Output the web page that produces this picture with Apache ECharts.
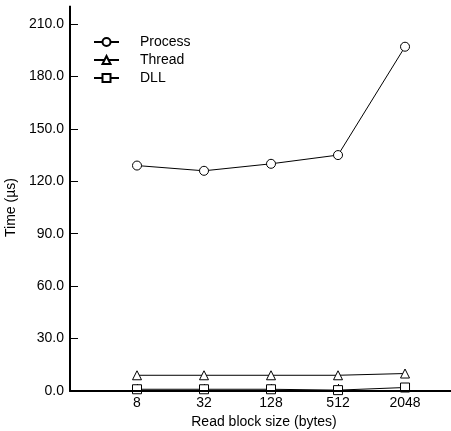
<!DOCTYPE html>
<html>
<head>
<meta charset="utf-8">
<script src="https://cdn.jsdelivr.net/npm/echarts@6/dist/echarts.min.js"></script>
<style>
  html, body { margin: 0; padding: 0; background: #fff; }
  #chart { width: 451px; height: 431px; }
</style>
</head>
<body>
<div id="chart"></div>
<script>
// Read block sizes (bytes) along the x axis
var blockSizes = ['8', '32', '128', '512', '2048'];
// Measured times in microseconds
var processTimes = [129, 126, 130, 135, 197];
var threadTimes = [9, 9, 9, 9, 10];
var dllTimes = [1, 1, 1, 0.5, 2];
// Y axis range and tick step
var yMax = 210;
var yStep = 30;
// The y axis line runs on a little past its last tick, the x axis line past the right edge
var yLineEnd = 220.5;
var xMax = 5.91;

var FONT = '"Liberation Sans", Arial, Helvetica, sans-serif';

// Block sizes sit at positions 1..n on a numeric x axis
function pairs(values) {
  return values.map(function (v, i) { return [i + 1, v]; });
}

function lineSeries(name, values, symbol) {
  return {
    name: name,
    type: 'line',
    data: pairs(values),
    symbol: symbol,
    symbolSize: 9,
    clip: false,
    lineStyle: { color: '#000', width: 1 },
    itemStyle: { color: '#fff', borderColor: '#000', borderWidth: 1 }
  };
}

// Axis frame lines drawn through the same scales
function frameSeries(points) {
  return {
    type: 'line',
    data: points,
    symbol: 'none',
    clip: false,
    silent: true,
    lineStyle: { color: '#000', width: 2 },
    z: 4
  };
}

var chart = echarts.init(document.getElementById('chart'));
var option = {
  animation: false,
  backgroundColor: '#fff',
  grid: { left: 70, right: -15, top: 24, bottom: 40, outerBoundsMode: 'none', containLabel: false },
  legend: {
    orient: 'vertical',
    left: 88,
    top: 30,
    itemWidth: 25,
    itemHeight: 10,
    itemGap: 4,
    data: ['Process', 'Thread', 'DLL'],
    textStyle: { fontFamily: FONT, fontSize: 14, color: '#000', padding: [0, 0, 0, 16] }
  },
  xAxis: {
    type: 'value',
    min: 0,
    max: xMax,
    interval: 1,
    name: 'Read block size (bytes)',
    nameLocation: 'middle',
    nameGap: 22,
    nameTextStyle: { fontFamily: FONT, fontSize: 14, color: '#000', padding: [0, 8, 0, 0] },
    axisLine: { show: true, onZero: false, lineStyle: { color: '#000', width: 2 } },
    axisTick: { show: true, inside: true, length: 7, lineStyle: { color: '#000', width: 1 } },
    axisLabel: {
      margin: 5,
      fontFamily: FONT, fontSize: 14, color: '#000',
      formatter: function (v) {
        var i = Math.round(v);
        return Math.abs(v - i) < 1e-6 && i >= 1 ? (blockSizes[i - 1] || '') : '';
      }
    },
    splitLine: { show: false }
  },
  yAxis: {
    type: 'value',
    min: 0,
    max: yMax,
    interval: yStep,
    name: 'Time (\u00b5s)',
    nameLocation: 'middle',
    nameGap: 39,
    nameTextStyle: { fontFamily: FONT, fontSize: 14, color: '#000' },
    axisLine: { show: true, onZero: false, lineStyle: { color: '#000', width: 2 } },
    axisTick: { show: true, inside: true, length: 8, lineStyle: { color: '#000', width: 1 } },
    axisLabel: {
      margin: 6,
      fontFamily: FONT, fontSize: 14, color: '#000',
      formatter: function (v) { return v.toFixed(1); }
    },
    splitLine: { show: false }
  },
  series: [
    frameSeries([[0, 0], [0, yLineEnd]]),
    frameSeries([[0, 0], [xMax, 0]]),
    lineSeries('Process', processTimes, 'circle'),
    lineSeries('Thread', threadTimes, 'triangle'),
    lineSeries('DLL', dllTimes, 'rect')
  ]
};
try {
  chart.setOption(option);
} catch (e) {
  console.error(e);
}
</script>
</body>
</html>
